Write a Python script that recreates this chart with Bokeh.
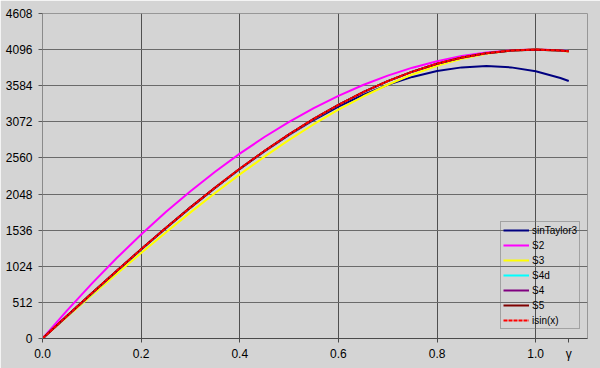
from bokeh.plotting import figure
from bokeh.models import FixedTicker, Legend, LegendItem, Range1d, CustomJSTickFormatter
from bokeh.embed import file_html
from bokeh.resources import INLINE

# x positions (fraction of pi/2)
t = [0.0, 0.05, 0.10, 0.15, 0.20, 0.25, 0.30, 0.35, 0.40, 0.45, 0.50, 0.55,
     0.60, 0.65, 0.70, 0.75, 0.80, 0.85, 0.90, 0.95, 1.00, 1.05, 1.067]

sinTaylor3 = [0, 321, 641, 956, 1266, 1567, 1859, 2138, 2404, 2654, 2886, 3098,
              3289, 3455, 3596, 3709, 3792, 3844, 3862, 3844, 3788, 3693, 3651]
S2 = [0, 399, 778, 1137, 1475, 1792, 2089, 2365, 2621, 2857, 3072, 3267,
      3441, 3594, 3727, 3840, 3932, 4004, 4055, 4086, 4096, 4086, 4078]
S3 = [0, 307, 612, 915, 1212, 1504, 1788, 2063, 2327, 2578, 2816, 3038,
      3244, 3431, 3598, 3744, 3867, 3965, 4037, 4081, 4096, 4080, 4068]
S4d = [0, 318, 636, 950, 1259, 1560, 1853, 2134, 2402, 2655, 2892, 3112,
       3312, 3491, 3649, 3784, 3896, 3983, 4046, 4083, 4095, 4084, 4075]
S4 = [0, 320, 639, 953, 1262, 1563, 1856, 2137, 2405, 2657, 2894, 3113,
      3313, 3491, 3649, 3783, 3895, 3982, 4045, 4082, 4095, 4083, 4074]
S5 = [0, 321, 640, 955, 1265, 1566, 1859, 2139, 2407, 2659, 2895, 3114,
      3313, 3492, 3650, 3784, 3896, 3983, 4046, 4083, 4096, 4083, 4073]
isin = [0, 321, 641, 956, 1266, 1567, 1860, 2140, 2408, 2660, 2896, 3115,
        3314, 3492, 3650, 3784, 3896, 3983, 4046, 4083, 4096, 4083, 4073]

x_ticks = [0.0, 0.2, 0.4, 0.6, 0.8, 1.0]
y_ticks = [0, 512, 1024, 1536, 2048, 2560, 3072, 3584, 4096, 4608]
extra_label = "γ"
extra_label_x = 1.067

BG = "#d4d4d4"
FONT = "Liberation Sans"

p = figure(width=600, height=368, output_backend="svg", toolbar_location=None,
           x_range=Range1d(0, 1.105), y_range=Range1d(0, 4608),
           min_border_left=42, min_border_right=13, min_border_top=13,
           min_border_bottom=30)
p.background_fill_color = BG
p.border_fill_color = BG
p.outline_line_color = "#979797"

p.xaxis.ticker = FixedTicker(ticks=x_ticks + [extra_label_x])
p.yaxis.ticker = FixedTicker(ticks=y_ticks)
p.xaxis.formatter = CustomJSTickFormatter(
    args=dict(lab=extra_label),
    code="return tick > 1.05 ? lab : tick.toFixed(1);")
for ax in (p.xaxis[0], p.yaxis[0]):
    ax.major_label_text_font = FONT
    ax.major_label_text_font_size = "12px"
    ax.major_label_text_color = "#000000"
    ax.major_tick_out = 4
    ax.major_tick_in = 0
    ax.minor_tick_line_color = None
p.yaxis.major_label_standoff = 6
p.xaxis.major_label_standoff = 4
p.yaxis.axis_line_color = "#8a8a8a"
p.yaxis.major_tick_line_color = "#5a5a5a"
p.xaxis.axis_line_color = "#4a4a4a"
p.xaxis.major_tick_line_color = "#4a4a4a"

p.xgrid.ticker = FixedTicker(ticks=x_ticks)
p.ygrid.ticker = FixedTicker(ticks=y_ticks)
p.xgrid.grid_line_color = "#505050"
p.ygrid.grid_line_color = "#6a6a6a"
p.grid.grid_line_width = 1

series = [
    ("sinTaylor3", sinTaylor3, "#000080", None, 2),
    ("S2", S2, "#ff00ff", None, 2),
    ("S3", S3, "#ffff00", None, 2),
    ("S4d", S4d, "#00ffff", None, 2),
    ("S4", S4, "#800080", None, 2),
    ("S5", S5, "#800000", None, 2),
    ("isin(x)", isin, "#ff0000", "4 1", 2),
]

items = []
for name, ys, col, dash, w in series:
    kw = {}
    if dash:
        kw["line_dash"] = dash
    r = p.line(t, ys, line_color=col, line_width=w, **kw)
    items.append(LegendItem(label=name, renderers=[r]))

legend = Legend(items=items, location=(458, 9))
legend.label_text_font = FONT
legend.label_text_font_size = "10px"
legend.label_text_color = "#000000"
legend.label_height = 12
legend.glyph_height = 12
legend.glyph_width = 26
legend.label_standoff = 3
legend.spacing = 3
legend.padding = 2
legend.margin = 0
legend.background_fill_alpha = 0
legend.border_line_color = "#707070"
legend.border_line_width = 1
p.add_layout(legend)

html = file_html(p, INLINE)
html = html.replace("<body>", '<body style="background-color:%s;">' % BG, 1)
open("out.html", "w").write(html)
